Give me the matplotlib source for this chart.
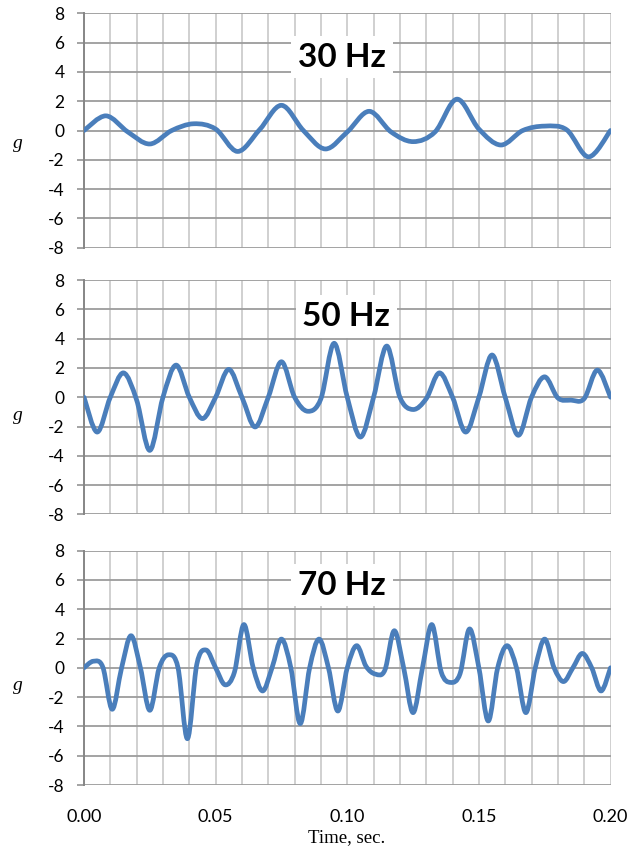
import numpy as np
import matplotlib
matplotlib.use("Agg")
import matplotlib.pyplot as plt
from matplotlib.path import Path
from matplotlib.patches import PathPatch
from matplotlib.ticker import MultipleLocator, FixedLocator

# ---------------- data ----------------
titles = ["30 Hz", "50 Hz", "70 Hz"]
sample_rates = [120, 200, 280]          # samples per second of each record
g_30 = [0.0, 1.0, -0.1, -0.92, 0.0, 0.46, 0.1, -1.43, 0.05, 1.72, 0.0, -1.26,
        -0.1, 1.31, -0.1, -0.76, -0.1, 2.14, 0.1, -0.99, 0.0, 0.3, 0.05, -1.8, 0.0]
g_50 = [0.0, -2.38, 0.0, 1.66, -0.2, -3.63, 0.0, 2.19, 0.0, -1.46, 0.0, 1.9,
        0.0, -2.03, 0.0, 2.42, 0.0, -0.96, -0.1, 3.68, 0.0, -2.72, 0.0, 3.49,
        0.0, -0.84, -0.1, 1.66, 0.0, -2.38, 0.0, 2.88, 0.0, -2.6, 0.0, 1.39,
        -0.05, -0.2, -0.1, 1.85, 0.0]
g_70 = [0.0, 0.45, 0.05, -2.83, 0.0, 2.19, 0.0, -2.9, 0.0, 0.89, 0.0, -4.84,
        0.25, 1.21, 0.0, -1.16, -0.3, 2.95, 0.0, -1.58, 0.0, 1.96, 0.0, -3.81,
        0.0, 1.96, 0.0, -2.95, 0.0, 1.51, 0.1, -0.43, -0.16, 2.53, 0.0, -3.06,
        0.0, 2.95, -0.3, -1.0, -0.4, 2.65, 0.0, -3.63, 0.0, 1.51, 0.0, -3.06,
        0.0, 1.96, 0.0, -0.94, 0.0, 0.98, 0.0, -1.58, 0.0]
series = [g_30, g_50, g_70]
x_tick_values = [0.0, 0.05, 0.10, 0.15, 0.20]
x_tick_labels = ["0.00", "0.05", "0.10", "0.15", "0.20"]
y_tick_values = [-8, -6, -4, -2, 0, 2, 4, 6, 8]
x_label = "Time, sec."
y_label = "g"

# ---------------- style ----------------
LINE_COLOR = "#4A7EBB"
VGRID = "#C3C3C3"
HGRID = "#9C9C9C"
AXIS = "#868686"
TICK_FONT = "Lato"


def smooth_path(x, y):
    """Excel-like smoothed line as cubic Bezier path through the samples."""
    x = np.asarray(x, float)
    y = np.asarray(y, float)
    n = len(x)
    verts = [(x[0], y[0])]
    codes = [Path.MOVETO]
    for i in range(n - 1):
        p0 = i - 1 if i > 0 else i
        p3 = i + 2 if i + 2 < n else i + 1
        c1 = (x[i] + (x[i + 1] - x[p0]) / 6.0, y[i] + (y[i + 1] - y[p0]) / 6.0)
        c2 = (x[i + 1] - (x[p3] - x[i]) / 6.0, y[i + 1] - (y[p3] - y[i]) / 6.0)
        verts += [c1, c2, (x[i + 1], y[i + 1])]
        codes += [Path.CURVE4] * 3
    return Path(verts, codes)


fig = plt.figure(figsize=(6.31, 8.52), dpi=100)

ax_left = 84 / 631
ax_w = (610.5 - 84) / 631
ax_h = 234.4 / 852
bottoms_px = [247.7, 514.4, 785.0]
title_y = [5.0, 5.5, 5.65]
title_x = [0.098, 0.0996, 0.098]
ylabel_px = [143, 416, 685]

for idx in range(3):
    ax = fig.add_axes([ax_left, 1 - bottoms_px[idx] / 852, ax_w, ax_h])
    vals = series[idx]
    t = np.arange(len(vals)) / sample_rates[idx]
    patch = PathPatch(smooth_path(t, vals), facecolor="none", edgecolor=LINE_COLOR,
                      lw=3.4, capstyle="round", joinstyle="round", zorder=3)
    ax.add_patch(patch)

    ax.set_xlim(0, 0.2)
    ax.set_ylim(-8, 8)
    ax.xaxis.set_major_locator(FixedLocator(x_tick_values))
    ax.xaxis.set_minor_locator(MultipleLocator(0.01))
    ax.yaxis.set_major_locator(FixedLocator(y_tick_values))
    ax.grid(True, which="both", axis="x", color=VGRID, lw=1.1, zorder=0)
    ax.grid(True, which="major", axis="y", color=HGRID, lw=1.3, zorder=0)
    ax.set_axisbelow(True)
    for s in ["top", "right", "bottom"]:
        ax.spines[s].set_visible(False)
    ax.spines["left"].set_color(AXIS)
    ax.spines["left"].set_linewidth(1.4)
    ax.tick_params(axis="y", length=5, width=1.3, color=HGRID, pad=9,
                   labelsize=12.5, labelcolor="black")
    ax.tick_params(axis="x", which="both", length=0)
    ax.set_yticklabels([str(v) for v in y_tick_values], fontfamily=TICK_FONT)
    if idx == 2:
        ax.set_xticklabels(x_tick_labels, fontfamily=TICK_FONT, fontsize=13)
        ax.tick_params(axis="x", pad=17)
    else:
        ax.set_xticklabels([])

    ax.text(title_x[idx], title_y[idx], titles[idx], ha="center", va="center",
            fontsize=24, fontweight="bold", fontfamily=TICK_FONT, zorder=5,
            bbox=dict(boxstyle="square,pad=0.2", facecolor="white", edgecolor="none"))

    fig.text(18 / 631, 1 - ylabel_px[idx] / 852, y_label, ha="center", va="center",
             fontsize=14, fontstyle="italic", fontfamily="Liberation Serif")

fig.text(347 / 631, 1 - 838 / 852, x_label, ha="center", va="center",
         fontsize=13.5, fontfamily="Liberation Serif")

fig.savefig("out.png", dpi=100, facecolor="white")
